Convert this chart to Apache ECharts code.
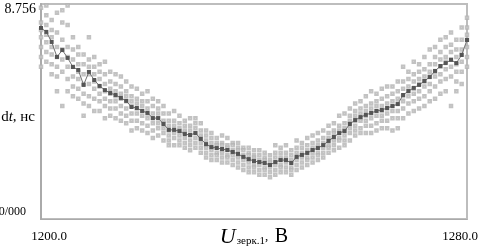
<!DOCTYPE html>
<html><head><meta charset="utf-8">
<script src="https://cdn.jsdelivr.net/npm/echarts@6/dist/echarts.min.js"></script>
<style>html,body{margin:0;padding:0;background:#fff}#c{width:480px;height:247px}</style>
</head><body><div id="c"></div>
<script>
var xStart = 1200;
var xTickLabels = ['1200.0', '1280.0'];
var yTickLabels = ['0/000', '8.756'];
var yMax = 8.756;
var meanValues = [7.78,7.62,7.21,6.60,6.88,6.56,6.19,6.07,5.46,5.99,5.66,5.42,5.25,5.13,5.05,4.93,4.81,4.56,4.52,4.40,4.32,4.11,4.11,3.87,3.63,3.63,3.58,3.46,3.42,3.50,3.26,3.05,2.93,2.89,2.85,2.81,2.73,2.65,2.53,2.44,2.36,2.32,2.28,2.20,2.32,2.40,2.40,2.28,2.53,2.61,2.69,2.81,2.89,3.01,3.18,3.34,3.50,3.58,3.87,4.03,4.15,4.24,4.32,4.40,4.44,4.52,4.60,4.68,5.05,5.21,5.34,5.46,5.62,5.78,6.03,6.23,6.35,6.48,6.35,6.68,7.29];
var samples = [
[8.6,8.0,7.7,7.4,7.0,6.6,6.2],
[8.7,8.3,7.9,7.5,7.2,6.8,6.4],
[8.1,7.7,7.4,7.0,6.7,6.3,5.9],
[8.4,7.6,7.0,6.6,6.2,5.8,5.2],
[8.5,8.0,7.3,6.9,6.5,6.0,4.6],
[8.7,7.9,7.0,6.6,6.2,5.7,5.2],
[7.4,6.9,6.5,6.2,5.8,5.4,5.0],
[7.0,6.7,6.3,6.0,5.7,5.3,4.9],
[6.7,6.3,5.9,5.5,5.1,4.7,4.2],
[7.4,6.5,6.2,5.9,5.5,5.0,4.6],
[6.6,6.2,5.9,5.6,5.3,4.9,4.4],
[6.3,6.0,5.7,5.4,5.1,4.8,4.4],
[6.4,5.9,5.5,5.2,4.9,4.6,4.1],
[6.0,5.6,5.3,5.1,4.8,4.5,4.2],
[5.9,5.5,5.2,5.0,4.8,4.5,4.1],
[5.8,5.4,5.1,4.9,4.6,4.3,4.0],
[5.6,5.2,5.0,4.8,4.5,4.2,3.9],
[5.4,5.0,4.8,4.6,4.3,4.0,3.6],
[5.3,4.9,4.7,4.5,4.3,4.0,3.7],
[5.1,4.8,4.6,4.4,4.2,3.9,3.6],
[5.2,4.8,4.5,4.3,4.1,3.8,3.5],
[4.9,4.6,4.3,4.1,3.9,3.6,3.3],
[4.8,4.5,4.3,4.1,3.9,3.7,3.4],
[4.6,4.3,4.0,3.9,3.7,3.5,3.2],
[4.3,4.0,3.8,3.6,3.4,3.2,3.0],
[4.4,4.0,3.8,3.6,3.5,3.3,3.0],
[4.2,3.9,3.7,3.6,3.4,3.2,3.0],
[4.0,3.8,3.6,3.5,3.3,3.1,2.9],
[4.1,3.8,3.6,3.4,3.2,3.0,2.8],
[4.1,3.9,3.7,3.5,3.3,3.1,2.9],
[3.9,3.6,3.4,3.3,3.1,2.9,2.7],
[3.6,3.4,3.2,3.0,2.9,2.7,2.5],
[3.5,3.3,3.1,2.9,2.8,2.6,2.4],
[3.3,3.1,3.0,2.9,2.7,2.6,2.4],
[3.4,3.1,3.0,2.8,2.7,2.5,2.3],
[3.3,3.0,2.9,2.8,2.6,2.5,2.3],
[3.1,3.0,2.8,2.7,2.6,2.4,2.2],
[3.1,2.9,2.8,2.6,2.5,2.3,2.1],
[2.9,2.8,2.6,2.5,2.4,2.2,2.0],
[2.9,2.7,2.6,2.4,2.3,2.1,1.9],
[2.8,2.6,2.5,2.4,2.2,2.1,1.9],
[2.8,2.6,2.4,2.3,2.2,2.0,1.8],
[2.7,2.5,2.4,2.3,2.1,2.0,1.8],
[2.6,2.4,2.3,2.2,2.1,1.9,1.7],
[3.0,2.7,2.5,2.3,2.2,2.0,1.8],
[2.9,2.7,2.5,2.4,2.2,2.1,1.9],
[3.0,2.7,2.5,2.4,2.3,2.1,1.9],
[2.8,2.6,2.4,2.3,2.1,2.0,1.8],
[3.2,2.9,2.7,2.5,2.4,2.2,2.0],
[3.1,2.9,2.7,2.6,2.5,2.3,2.1],
[3.3,3.0,2.8,2.7,2.5,2.4,2.2],
[3.4,3.1,2.9,2.8,2.7,2.5,2.3],
[3.5,3.2,3.0,2.9,2.7,2.6,2.4],
[3.6,3.3,3.1,3.0,2.9,2.7,2.5],
[3.8,3.5,3.3,3.2,3.0,2.9,2.7],
[3.9,3.6,3.5,3.3,3.2,3.0,2.8],
[4.2,3.8,3.6,3.5,3.3,3.2,2.9],
[4.3,3.9,3.7,3.6,3.4,3.2,3.0],
[4.5,4.2,4.0,3.9,3.7,3.5,3.2],
[4.7,4.4,4.2,4.0,3.8,3.6,3.4],
[4.8,4.5,4.3,4.1,4.0,3.7,3.5],
[5.0,4.6,4.4,4.2,4.0,3.8,3.5],
[5.2,4.7,4.5,4.3,4.1,3.8,3.5],
[5.1,4.8,4.6,4.4,4.2,3.9,3.6],
[5.3,4.9,4.6,4.4,4.2,4.0,3.7],
[5.4,5.0,4.7,4.5,4.3,4.0,3.7],
[5.4,5.1,4.8,4.6,4.4,4.1,3.6],
[5.6,5.2,4.9,4.7,4.4,4.1,3.7],
[6.2,5.6,5.3,5.0,4.8,4.5,4.1],
[6.0,5.7,5.4,5.2,5.0,4.7,4.3],
[6.4,5.9,5.6,5.3,5.1,4.8,4.4],
[6.3,6.0,5.7,5.5,5.2,4.9,4.5],
[6.6,6.1,5.8,5.6,5.4,5.0,4.6],
[6.9,6.3,6.0,5.8,5.5,5.2,4.8],
[7.0,6.6,6.3,6.0,5.8,5.4,4.9],
[7.3,6.8,6.5,6.2,5.9,5.6,5.1],
[7.4,7.0,6.6,6.4,6.1,5.7,5.2],
[7.6,7.1,6.8,6.5,6.2,5.8,4.6],
[7.3,6.9,6.6,6.3,6.0,5.6,5.2],
[7.8,7.3,6.9,6.7,6.4,6.0,5.5],
[8.2,7.8,7.5,7.3,7.0,6.6,6.2]
];

var scatterData = [];
samples.forEach(function (col, i) {
  col.forEach(function (v) { scatterData.push([xStart + i, v]); });
});
var lineData = meanValues.map(function (v, i) { return [xStart + i, v]; });
var xEnd = xStart + meanValues.length - 1;

var serif = 'Liberation Serif';
var chart = echarts.init(document.getElementById('c'), null, {renderer: 'canvas'});
chart.setOption({
  animation: false,
  backgroundColor: '#fff',
  grid: {left: 41, top: 4, right: 13, bottom: 28, containLabel: false, outerBoundsMode: 'none',
    show: true, borderColor: '#bdbdbd', borderWidth: 2, backgroundColor: 'transparent'},
  xAxis: {
    type: 'value', min: xStart, max: xEnd, interval: xEnd - xStart,
    axisLine: {show: true, lineStyle: {color: '#aaa', width: 1}},
    axisTick: {show: false}, splitLine: {show: false},
    axisLabel: {
      margin: 11, fontFamily: serif, fontSize: 13, color: '#000',
      formatter: function (v) { return v === xStart ? '{l|' + xTickLabels[0] + '}' : '{r|' + xTickLabels[1] + '}'; },
      rich: {
        l: {fontFamily: serif, fontSize: 13, color: '#000', padding: [0, 0, 0, 16]},
        r: {fontFamily: serif, fontSize: 13, color: '#000', padding: [0, 14, 0, 0]}
      }
    },
    name: '{u|U}{s|зерк.1}{c|,  }{b|B}',
    nameLocation: 'middle', nameGap: 7, nameMoveOverlap: false,
    nameTextStyle: {
      rich: {
        u: {fontFamily: serif, fontStyle: 'italic', fontSize: 22, color: '#000', verticalAlign: 'bottom'},
        s: {fontFamily: serif, fontSize: 11, color: '#000', padding: [9, 0, 0, 1]},
        c: {fontFamily: serif, fontSize: 13, color: '#000'},
        b: {fontFamily: serif, fontSize: 20, color: '#000'}
      }
    }
  },
  yAxis: {
    type: 'value', min: 0, max: yMax, interval: yMax,
    axisLine: {show: true, lineStyle: {color: '#aaa', width: 2}},
    axisTick: {show: false}, splitLine: {show: false},
    axisLabel: {
      margin: 5, fontFamily: serif, fontSize: 13, color: '#000',
      formatter: function (v) { return v === 0 ? '{b|' + yTickLabels[0] + '}' : '{t|' + yTickLabels[1] + '}'; },
      rich: {
        t: {fontFamily: serif, fontSize: 14, color: '#000', padding: [11, 0, 0, 0]},
        b: {fontFamily: serif, fontSize: 12, color: '#000', padding: [0, 10, 14, 0]}
      }
    },
    name: '{n|d}{i|t}{n|, нс}',
    nameLocation: 'middle', nameRotate: 0, nameGap: 6, nameMoveOverlap: false,
    nameTextStyle: {
      align: 'right',
      rich: {
        n: {fontFamily: serif, fontSize: 15, color: '#000', padding: [11, 0, 0, 0]},
        i: {fontFamily: serif, fontStyle: 'italic', fontSize: 15, color: '#000', padding: [11, 0, 0, 0]}
      }
    }
  },
  series: [
    {
      type: 'scatter', data: scatterData, symbol: 'emptyRect', symbolSize: 2.5,
      itemStyle: {color: '#b3b3b3', borderWidth: 1}, silent: true, z: 2
    },
    {
      type: 'line', data: lineData, symbol: 'emptyRect', symbolSize: 2, showSymbol: true,
      lineStyle: {color: '#707070', width: 1}, itemStyle: {color: '#555', borderWidth: 1}, silent: true, z: 3
    }
  ]
});
</script></body></html>
